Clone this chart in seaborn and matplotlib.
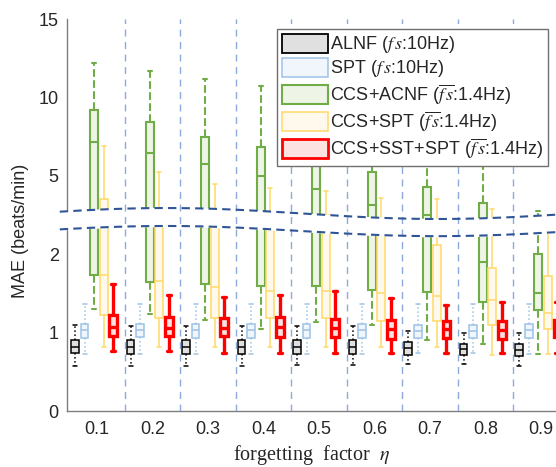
import matplotlib
matplotlib.use('Agg')
import matplotlib.pyplot as plt
from matplotlib.patches import Patch
import numpy as np
import pandas as pd
import seaborn as sns

# forgetting factor values on the x axis
factors = ['0.1', '0.2', '0.3', '0.4', '0.5', '0.6', '0.7', '0.8', '0.9']
methods = ['ALNF', 'SPT', 'CCS+ACNF', 'CCS+SPT', 'CCS+SST+SPT']

# box stats: [whisker low, q1, median, q3, whisker high]
alnf = [[0.58, 0.74, 0.82, 0.91, 1.10], [0.58, 0.73, 0.81, 0.90, 1.09],
        [0.58, 0.73, 0.81, 0.90, 1.09], [0.58, 0.73, 0.81, 0.90, 1.09],
        [0.59, 0.73, 0.81, 0.90, 1.09], [0.59, 0.73, 0.81, 0.90, 1.09],
        [0.60, 0.72, 0.80, 0.88, 1.02], [0.60, 0.72, 0.79, 0.86, 1.00],
        [0.58, 0.70, 0.78, 0.85, 0.99]]
spt = [[0.73, 0.93, 1.03, 1.11, 1.36], [0.73, 0.94, 1.03, 1.11, 1.36],
       [0.73, 0.93, 1.03, 1.11, 1.36], [0.73, 0.93, 1.03, 1.11, 1.36],
       [0.73, 0.93, 1.03, 1.11, 1.36], [0.73, 0.93, 1.03, 1.11, 1.36],
       [0.74, 0.93, 1.02, 1.10, 1.36], [0.74, 0.93, 1.02, 1.10, 1.36],
       [0.73, 0.93, 1.03, 1.11, 1.36]]
ccs_acnf = [[1.30, 1.73, 7.15, 9.20, 12.2], [1.24, 1.65, 6.45, 8.44, 11.7],
            [1.16, 1.62, 5.73, 7.50, 11.17], [1.05, 1.59, 4.99, 6.83, 10.75],
            [1.13, 1.59, 4.16, 6.03, 9.0], [1.10, 1.54, 3.13, 5.24, 6.13],
            [0.90, 1.52, 2.50, 4.30, 7.5], [0.86, 1.39, 1.90, 3.25, 5.62],
            [0.73, 1.29, 1.51, 2.00, 2.75]]
ccs_spt = [[0.81, 1.22, 1.73, 3.50, 6.9], [0.81, 1.19, 1.66, 2.55, 5.24],
           [0.81, 1.19, 1.58, 2.50, 4.45], [0.82, 1.19, 1.53, 2.50, 4.24],
           [0.81, 1.18, 1.53, 2.50, 4.05], [0.81, 1.15, 1.50, 2.45, 3.6],
           [0.81, 1.15, 1.47, 2.12, 3.5], [0.72, 1.10, 1.41, 1.82, 2.9],
           [0.73, 1.05, 1.25, 1.72, 2.4]]
ccs_sst_spt = [[0.77, 0.957, 1.075, 1.23, 1.62], [0.765, 0.957, 1.06, 1.195, 1.48],
               [0.745, 0.96, 1.06, 1.19, 1.46], [0.745, 0.95, 1.07, 1.20, 1.48],
               [0.735, 0.94, 1.055, 1.17, 1.53], [0.735, 0.92, 1.046, 1.16, 1.44],
               [0.735, 0.93, 1.04, 1.15, 1.35], [0.735, 0.915, 1.03, 1.15, 1.39],
               [0.735, 0.95, 1.05, 1.16, 1.39]]

labels = [r'ALNF ($f\,s$:10Hz)', r'SPT ($f\,s$:10Hz)',
          r'CCS+ACNF ($\overline{f\,s}$:1.4Hz)', r'CCS+SPT ($\overline{f\,s}$:1.4Hz)',
          r'CCS+SST+SPT ($\overline{f\,s}$:1.4Hz)']

edges = ['#000000', '#9dc3e6', '#70ad47', '#ffd966', '#ff0000']
fills = ['#e0e0e0', '#f0f6fc', '#eef4e6', '#fff8ec', '#fde2e2']
widths = [1.1, 1.1, 1.5, 1.1, 2.4]
wstyles = [':', ':', '--', '-', '-']

sns.set_style('white')
plt.rcParams['font.family'] = ['Liberation Sans', 'DejaVu Sans']
plt.rcParams['mathtext.fontset'] = 'stix'

fig = plt.figure(figsize=(5.56, 4.67), dpi=100)
ax = fig.add_axes([67 / 556, 56 / 467, 489 / 556, 392 / 467])

palette = dict(zip(methods, fills))
for m, stats, edge, lw, ls in zip(methods, [alnf, spt, ccs_acnf, ccs_spt, ccs_sst_spt],
                                  edges, widths, wstyles):
    rows = [(f, m, v) for f, s in zip(factors, stats) for v in s]
    df = pd.DataFrame(rows, columns=['factor', 'method', 'mae'])
    sns.boxplot(data=df, x='factor', y='mae', hue='method', order=factors,
                hue_order=methods, palette=palette, saturation=1, linecolor=edge,
                linewidth=lw, width=0.86, gap=0.2, dodge=True, whis=(0, 100),
                whiskerprops={'linestyle': ls}, legend=False, ax=ax)

# broken y axis: linear up to 2.5, compressed above
def fwd(v):
    v = np.asarray(v, dtype=float)
    return np.where(v <= 2.5, v, 2.5 + 0.2 * (v - 2.5))

def inv(f):
    f = np.asarray(f, dtype=float)
    return np.where(f <= 2.5, f, 2.5 + (f - 2.5) / 0.2)

ax.set_yscale('function', functions=(fwd, inv))
ax.set_ylim(0, 15)
ax.set_yticks([0, 1, 2, 5, 10, 15], ['0', '1', '2', '5', '10', '15'])
ax.minorticks_off()

shift = 0.05
ax.set_xlim(-0.49, 8.32)
ax.set_xticks(np.arange(len(factors)) + shift, factors)

# separators between factor groups
for k in range(len(factors) - 1):
    ax.axvline(k + 0.5 + shift, color='#8eaadb', lw=1, ls=(0, (5, 4)), zorder=3.5)

# break band
xs = np.linspace(-0.62, 8.5, 200)
wave = np.cos(2 * np.pi * (xs - 1.3) / 9.8)
tr = ax.get_xaxis_transform()
up = 0.5038 + 0.014 * wave
lo = 0.459 + 0.013 * wave
ax.fill_between(xs, lo, up, color='white', transform=tr, zorder=3, clip_on=False)
ax.plot(xs, up, color='#2f5597', lw=1.5, ls=(0, (4, 2.5)), transform=tr, zorder=4, clip_on=False)
ax.plot(xs, lo, color='#2f5597', lw=1.5, ls=(0, (4, 2.5)), transform=tr, zorder=4, clip_on=False)

for s in ['top', 'right']:
    ax.spines[s].set_visible(False)
for s in ['left', 'bottom']:
    ax.spines[s].set_color('#7f7f7f')
    ax.spines[s].set_linewidth(1)
ax.tick_params(direction='in', length=4, width=1, color='#7f7f7f',
               labelsize=13, labelcolor='#262626', pad=6)
ax.tick_params(axis='x', pad=7)

ax.set_xlabel(r'forgetting  factor  $\eta$', fontsize=14.5, family='Liberation Serif',
              labelpad=4)
ax.set_ylabel('MAE (beats/min)', fontsize=13, color='#262626')
ax.yaxis.set_label_coords(-0.078, 0.46)

handles = [Patch(facecolor=fc, edgecolor=ec, linewidth=lw)
           for fc, ec, lw in zip(fills, edges, [1.3, 1.1, 1.5, 1.1, 2.0])]
leg = ax.legend(handles, labels, loc='upper right', bbox_to_anchor=(548 / 556, 1 - 29 / 467),
                bbox_transform=fig.transFigure, fontsize=13, frameon=True, fancybox=False,
                framealpha=1, edgecolor='#707070', borderpad=0.25, labelspacing=0.15,
                handlelength=2.55, handleheight=1.25, handletextpad=0.15, borderaxespad=0)
leg.get_frame().set_linewidth(1)
leg.set_zorder(10)

fig.savefig('out.png', dpi=100)
